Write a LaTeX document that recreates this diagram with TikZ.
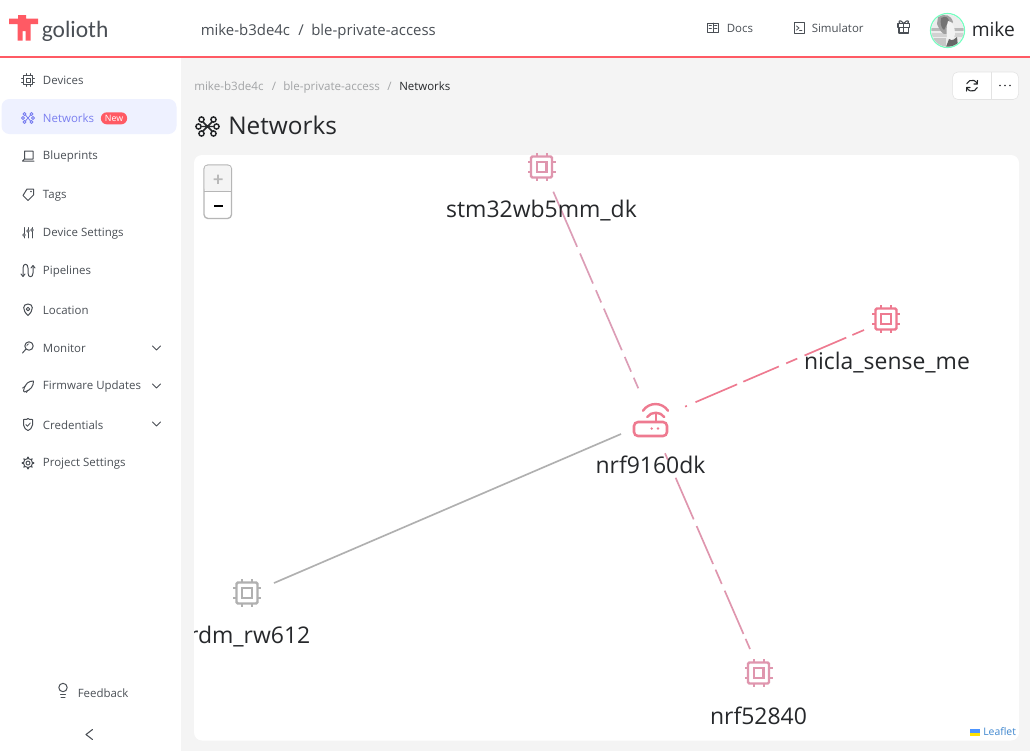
\documentclass[tikz,border=0pt]{standalone}
\usepackage{fontspec}
\setmainfont{Open Sans}
\newfontfamily\logofont{Carlito}
\newcommand{\fsz}[1]{\fontsize{#1}{#1}\selectfont}
\definecolor{pagebg}{HTML}{F4F4F4}
\definecolor{brand}{HTML}{FF5A64}
\definecolor{navtxt}{HTML}{4A4F55}
\definecolor{active}{HTML}{7A7FF0}
\definecolor{activebg}{HTML}{EEF1FF}
\definecolor{ink}{HTML}{26282B}
\definecolor{crumb}{HTML}{A2A4A6}
\definecolor{pinkA}{HTML}{DC9DB6}
\definecolor{pinkB}{HTML}{EE7A90}
\definecolor{pinkC}{HTML}{DF96AE}
\definecolor{greyL}{HTML}{B0B0B0}
\definecolor{border}{HTML}{E3E3E3}
\tikzset{
  x=0.75pt,y=-0.75pt,
  navlabel/.style={anchor=west,inner sep=0,text=navtxt,font=\fsz{8.6}},
  netlabel/.style={inner sep=0,text=ink,font=\fsz{17.2}},
  navicon/.style={draw=#1,line width=0.75pt,line cap=round,line join=round,fill=none},
  navicon/.default=navtxt,
  edgeline/.style={line width=1.25pt,draw=#1},
  chevron/.style={draw=navtxt,line width=0.7pt,line cap=round,line join=round},
  chip/.pic={
    \draw[line width=1.8pt,draw=#1,rounded corners=1pt] (-10.5,-10.5) rectangle (10.5,10.5);
    \draw[line width=1.8pt,draw=#1] (-4.8,-4.8) rectangle (4.8,4.8);
    \foreach \d in {-5,5}{
      \draw[line width=1.5pt,draw=#1] (\d,-10.5) -- (\d,-14) (\d,10.5) -- (\d,14)
        (-10.5,\d) -- (-14,\d) (10.5,\d) -- (14,\d);
    }
  },
  router/.pic={
    \draw[line width=1.9pt,draw=#1,rounded corners=3pt] (-17,2) rectangle (16,16);
    \fill[#1] (0.7,8.5) circle (1.3) (7,8.5) circle (1.3);
    \draw[line width=1.8pt,draw=#1,line cap=round] (4.7,-6) -- (4.7,2);
    \draw[line width=1.8pt,draw=#1,line cap=round] (-3.8,-3) .. controls (0,-8.7) and (9.5,-8.7) .. (13.2,-3);
    \draw[line width=1.8pt,draw=#1,line cap=round] (-8,-9.3) .. controls (-2,-18.2) and (11,-18.2) .. (17,-9.3);
  },
}
\begin{document}
\begin{tikzpicture}
\useasboundingbox (0,0) rectangle (1030,751);
% backgrounds
\fill[pagebg] (0,0) rectangle (1030,751);
\fill[white] (0,0) rectangle (1030,56);
\fill[white] (0,56) rectangle (181,751);
\fill[brand] (0,56) rectangle (1030,57.6);
\fill[white,rounded corners=6pt] (194,155) rectangle (1019,740.5);
\fill[activebg,rounded corners=6pt] (1.5,99) rectangle (176.5,134);

% logo
\fill[brand] (9,18.5) -- (18,18.5) -- (18,15) -- (26,15) -- (26,18.5) -- (38,18.5) -- (38,24) -- (30.5,24) -- (30.5,40.5) -- (25.5,40.5) -- (25.5,31) -- (22.5,31) -- (22.5,40.5) -- (17.5,40.5) -- (17.5,24) -- (9,24) -- cycle;
\node[anchor=base west,inner sep=0,text=navtxt,font=\logofont\fsz{17.6}] (brandname) at (41.5,37) {golioth};

% header
\node[anchor=base west,inner sep=0,text=navtxt,font=\fsz{11.2}] (orgcrumb) at (200.5,35) {mike-b3de4c};
\node[anchor=base west,inner sep=0,text=navtxt,font=\fsz{11.2}] (orgsep) at (298,35) {/};
\node[anchor=base west,inner sep=0,text=navtxt,font=\fsz{11.2}] (projcrumb) at (311,35) {ble-private-access};
\node[anchor=base west,inner sep=0,text=navtxt,font=\fsz{8.6}] (docs) at (726.5,32.5) {Docs};
\node[anchor=base west,inner sep=0,text=navtxt,font=\fsz{8.6}] (simulator) at (811.5,32.5) {Simulator};
\node[anchor=base west,inner sep=0,text=ink,font=\fsz{14.4}] (username) at (971.5,36.5) {mike};
% docs icon
\draw[navicon] (707.5,23) rectangle (718.5,32) (713,23) -- (713,32);
\draw[navicon,line width=0.5pt] (709,25.5) -- (711.5,25.5) (709,28) -- (711.5,28) (714.5,25.5) -- (717,25.5) (714.5,28) -- (717,28);
% simulator icon
\draw[navicon] (794,22.5) rectangle (804.5,33);
\draw[navicon,line width=0.6pt] (796.5,26) -- (799,28) -- (796.5,30) (799.5,30.5) -- (802,30.5);
% gift icon
\draw[navicon,line width=0.85pt] (898,23.5) rectangle (909.5,27.5) (899,27.5) rectangle (908.5,33) (903.7,23.5) -- (903.7,33);
\draw[navicon,line width=0.85pt] (903.7,23.5) .. controls (900,18.5) and (897.5,21.5) .. (900,23.5) (903.7,23.5) .. controls (907.5,18.5) and (910,21.5) .. (907.5,23.5);
% avatar
\fill[white] (947.5,30.5) circle (17.5);
\draw[draw=green!45!cyan!55!white,line width=0.9pt] (947.5,30.5) circle (17);
\begin{scope}
\clip (947.5,30.5) circle (16.2);
\fill[gray!15] (930,13) rectangle (966,48);
\fill[gray!55] (930,28) rectangle (966,31);
\fill[gray!35] (930,33) rectangle (966,37);
\fill[gray!75] (938,17) .. controls (945,13) and (951,15) .. (953,22) .. controls (950,26) and (948,28) .. (947,34) .. controls (942,36) and (939,28) .. (937,24) -- cycle;
\fill[gray!90!black] (941,18) .. controls (946,15) and (949,18) .. (949,22) .. controls (946,24) and (945,29) .. (944,30) .. controls (941,28) and (940,23) .. (941,18) -- cycle;
\fill[gray!10] (948,21) .. controls (953,21) and (955,28) .. (955,34) .. controls (954,40) and (951,42) .. (948,41) .. controls (946,36) and (946,27) .. (948,21) -- cycle;
\fill[gray!80!black] (949,39) .. controls (953,42) and (955,38) .. (957,37) -- (958,47) -- (946,47) -- cycle;
\fill[gray!45] (932,38) rectangle (946,47);
\end{scope}

% sidebar labels
\node[navlabel] (devices) at (42.7,80) {Devices};
\node[navlabel,text=active] (networks) at (42.7,118.5) {Networks};
\node[navlabel] (blueprints) at (42.7,157) {Blueprints};
\node[navlabel] (tags) at (42.7,195.5) {Tags};
\node[navlabel] (devset) at (42.7,233.7) {Device Settings};
\node[navlabel] (pipelines) at (42.7,272) {Pipelines};
\node[navlabel] (location) at (42.7,310) {Location};
\node[navlabel] (monitor) at (42.7,348.3) {Monitor};
\node[navlabel] (firmware) at (42.7,386.8) {Firmware Updates};
\node[navlabel] (credentials) at (42.7,425) {Credentials};
\node[navlabel] (projset) at (42.7,463.7) {Project Settings};
\node[navlabel] (feedback) at (77.5,693) {Feedback};
\node[fill=brand,rounded corners=4.4pt,text=white,font=\fsz{6.6},inner xsep=3pt,inner ysep=0pt,minimum height=9pt,text height=5.2pt,text depth=0pt] (newbadge) at (114,118.3) {New};
% sidebar icons
\draw[navicon] (23.5,75.5) rectangle (32.5,84.5);
\draw[navicon,line width=0.55pt] (26,78) rectangle (30,82);
\draw[navicon,line width=0.55pt] (26,73.5) -- (26,75.5) (30,73.5) -- (30,75.5) (26,84.5) -- (26,86.5) (30,84.5) -- (30,86.5) (21.5,78) -- (23.5,78) (21.5,82) -- (23.5,82) (32.5,78) -- (34.5,78) (32.5,82) -- (34.5,82);
\draw[navicon=active,line width=0.6pt] (24.5,114) -- (31.5,122) (31.5,114) -- (24.5,122);
\foreach \a/\b in {24.5/114,31.5/114,24.5/122,31.5/122,23/118,33/118}{\draw[navicon=active,line width=0.6pt,fill=activebg] (\a,\b) circle (1.5);}
\draw[navicon] (24.5,151) -- (33,151) -- (33,159) -- (24.5,159) -- (24.5,151) (22.5,161) -- (34,161) (24.5,159) -- (22.5,161);
\draw[navicon] (27,189) -- (33.5,189) -- (33.5,195) -- (28,200.5) -- (23,195.5) -- cycle;
\fill[navtxt] (31,191.5) circle (0.8);
\foreach \a/\b in {24/235,28/231,32/230}{\draw[navicon,line width=0.55pt] (\a,227.5) -- (\a,238); \draw[navicon,line width=0.55pt,fill=white] (\a,\b) circle (1.3);}
\draw[navicon] (23,276) -- (23,268) .. controls (23,263) and (28,263) .. (28,268) -- (28,273) .. controls (28,278) and (33,278) .. (33,273) -- (33,266);
\draw[navicon] (31,268) -- (33,265.5) -- (35,268) (21,274) -- (23,276.5) -- (25,274);
\draw[navicon] (28,315.5) .. controls (22,310) and (22.5,304) .. (28,304) .. controls (33.5,304) and (34,310) .. (28,315.5) -- cycle;
\draw[navicon] (28,309) circle (1.8);
\draw[navicon] (29,346) circle (4.2) (26,349) -- (22.5,353);
\draw[navicon,line width=0.5pt] (26.8,346) arc (180:270:2.2);
\draw[navicon] (23.5,391) .. controls (25,383) and (29,381) .. (33.5,381) .. controls (33.5,386) and (31,390) .. (24.5,392) -- cycle;
\draw[navicon,line width=0.6pt] (22.5,388) -- (25.5,386) (26.5,392.5) -- (28,390);
\draw[navicon] (23.5,419.5) .. controls (26,420) and (28,419) .. (28,418.5) .. controls (28.5,419) and (30,420) .. (32.5,419.5) -- (32.5,425) .. controls (32,428) and (30,430) .. (28,430.5) .. controls (26,430) and (24,428) .. (23.5,425) -- cycle;
\draw[navicon,line width=0.6pt] (25.8,424.5) -- (27.5,426.2) -- (30.3,423);
\draw[navicon] (28,463) circle (2);
\draw[navicon] (28,463) circle (4.6);
\foreach \a in {0,45,...,315}{\draw[navicon,line width=1pt] (28,463) ++(\a:4.6) -- ++(\a:1.2);}
% feedback icon
\draw[navicon] (63,687.5) circle (4.2);
\draw[navicon] (60.5,694) -- (65.5,694) (61,697) -- (65,697);
% chevrons
\draw[chevron] (152.5,346) -- (156.5,350) -- (160.5,346);
\draw[chevron] (152.5,384) -- (156.5,388) -- (160.5,384);
\draw[chevron] (152.5,422) -- (156.5,426) -- (160.5,422);
\draw[chevron,line width=0.8pt] (92.5,729.5) -- (86,734.5) -- (92.5,739.5);

% breadcrumb and title
\node[anchor=base west,inner sep=0,text=crumb,font=\fsz{8.7}] (crumb1) at (194,90.5) {mike-b3de4c};
\node[anchor=base west,inner sep=0,text=crumb,font=\fsz{8.7}] (crumbsep1) at (271.5,90.5) {/};
\node[anchor=base west,inner sep=0,text=crumb,font=\fsz{8.7}] (crumb2) at (283,90.5) {ble-private-access};
\node[anchor=base west,inner sep=0,text=crumb,font=\fsz{8.7}] (crumbsep2) at (387,90.5) {/};
\node[anchor=base west,inner sep=0,text=ink,font=\fsz{8.6}] (crumb3) at (399,90.5) {Networks};
\node[anchor=base west,inner sep=0,text=ink,font=\fsz{18.3}] (pagetitle) at (228,134.5) {Networks};
% title icon
\draw[draw=ink,line width=1.1pt] (201.5,120.5) -- (213.5,132.5) (213.5,120.5) -- (201.5,132.5) (199,126.5) -- (216,126.5);
\foreach \p in {(201.5,119.5),(213.5,119.5),(201.5,133.5),(213.5,133.5),(198.5,126.5),(216.5,126.5)}{\draw[draw=ink,line width=1.1pt,fill=pagebg] \p circle (2.6);}

% top right buttons
\draw[draw=border,fill=white,rounded corners=4pt] (952.5,72) rectangle (1018.5,99.5);
\draw[draw=border] (991.5,72) -- (991.5,99.5);
\draw[navicon=ink,line width=0.8pt] (966.7,83.8) arc (200:340:5.6);
\draw[navicon=ink,line width=0.8pt] (977.3,87.5) arc (20:160:5.6);
\draw[navicon=ink,line width=0.8pt] (977.5,80.5) -- (977.3,84) -- (974,84) (966.5,91) -- (966.7,87.5) -- (970,87.5);
\fill[ink] (1000,85.5) circle (0.9) (1005,85.5) circle (0.9) (1010,85.5) circle (0.9);

% zoom control
\draw[draw=border!80!black,line width=1pt,fill=white,rounded corners=3pt] (204,165) rectangle (231.5,218.5);
\fill[pagebg,rounded corners=2pt] (204.6,165.6) rectangle (230.9,191);
\draw[draw=border!80!black] (204,191.5) -- (231.5,191.5);
\fill[gray!55] (213.5,178.3) rectangle (222.5,180) (217.1,174.5) rectangle (218.9,183.8);
\fill[black] (213.5,204.5) rectangle (222.5,206.5);

% network nodes
\coordinate (stm) at (541.5,167);
\coordinate (nicla) at (886,319);
\coordinate (gateway) at (651,420);
\coordinate (frdm) at (247,593);
\coordinate (nrf) at (758.5,673);
\coordinate (stmA) at (553.3,191.7);
\coordinate (stmB) at (638.3,388.3);
\coordinate (niclaA) at (864,330);
\coordinate (niclaB) at (683,407.5);
\coordinate (frdmA) at (274,583);
\coordinate (frdmB) at (621,434);
\coordinate (nrfA) at (750,649);
\coordinate (nrfB) at (665,453.3);

\draw[edgeline=pinkA,dash pattern=on 45pt off 5.5pt on 24.5pt off 5.5pt on 10pt off 5pt on 34pt off 5.5pt on 12pt off 5pt on 9pt off 50pt] (stmA) -- (stmB);
\draw[edgeline=pinkB,dash pattern=on 9.5pt off 5pt on 34pt off 6pt on 9pt off 6pt on 29pt off 5pt on 34pt off 7pt on 1.5pt off 50pt] (niclaA) -- (niclaB);
\draw[edgeline=greyL] (frdmA) -- (frdmB);
\draw[edgeline=pinkC,dash pattern=on 5.5pt off 14.5pt on 34pt off 5.5pt on 31pt off 4.6pt on 11.7pt off 5.5pt on 35.4pt off 4pt on 8.7pt off 50pt] (nrfB) -- (nrfA);

\pic at (stm) {chip=pinkC};
\pic at (nicla) {chip=pinkB};
\pic at (frdm) {chip=greyL};
\pic at (nrf) {chip=pinkC};
\pic at (gateway) {router=pinkB};

\node[netlabel] (stmlabel) at (541.5,210.5) {stm32wb5mm\_dk};
\node[netlabel] (niclalabel) at (887,362.5) {nicla\_sense\_me};
\node[netlabel] (gatewaylabel) at (650.5,465) {nrf9160dk};
\begin{scope}
\clip (194,620) rectangle (330,655);
\node[netlabel,anchor=east] (frdmlabel) at (310.5,636.5) {rdm\_rw612};
\end{scope}
\node[netlabel] (nrflabel) at (758.5,716) {nrf52840};

% attribution
\fill[blue!60!cyan!70!white] (970,729) rectangle (980,732.5);
\fill[yellow!85!orange] (970,732.5) rectangle (980,736);
\node[anchor=base west,inner sep=0,text=cyan!55!blue!80!white,font=\fsz{7.8}] (leaflet) at (983,735.5) {Leaflet};
\end{tikzpicture}
\end{document}
